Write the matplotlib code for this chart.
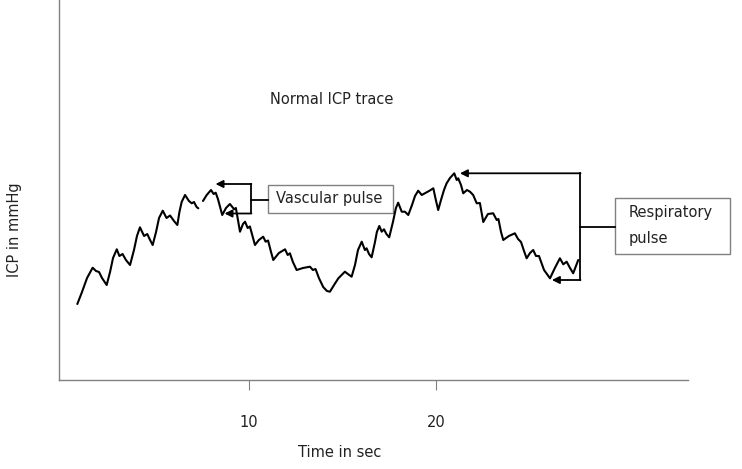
import numpy as np
import matplotlib
matplotlib.use('Agg')
import matplotlib.pyplot as plt
from matplotlib.patches import Rectangle

# trace: time in sec, ICP in arbitrary units (nan = gap in the line)
t = [0.82, 1.07, 1.34, 1.64, 1.82, 1.98, 2.14, 2.39, 2.57, 2.73, 2.93, 3.07, 3.24, 3.42, 3.64,
     3.85, 4.01, 4.17, 4.39, 4.56, 4.71, 4.85, 5.03, 5.19, 5.39, 5.59, 5.78, 5.99, 6.17, 6.28,
     6.40, 6.58, 6.79, 6.94, 7.06, 7.20, 7.29, np.nan, 7.54, 7.74, 7.97, 8.11, 8.22, 8.34, 8.45,
     8.57, 8.77, 8.98, 9.21, 9.30, 9.41, 9.52, 9.68, 9.79, 9.93, 10.05, 10.19, 10.32, 10.53,
     10.76, 10.89, 11.02, 11.18, 11.30, 11.60, 11.93, 12.07, 12.19, 12.35, 12.55, 12.89, 13.26,
     13.42, 13.56, 13.74, 13.97, 14.17, 14.33, 14.55, 14.78, 15.13, 15.29, 15.49, 15.67, 15.83,
     16.03, 16.20, 16.29, 16.42, 16.56, 16.74, 16.84, 16.97, 17.10, 17.22, 17.35, 17.50, 17.70,
     17.86, 17.98, 18.17, 18.34, 18.52, 18.72, 18.88, 19.05, 19.24, 19.41, 19.63, 19.86, 19.97,
     20.12, 20.27, 20.43, 20.57, 20.75, 20.98, 21.11, 21.19, 21.34, 21.46, 21.66, 21.82, 21.99,
     22.18, 22.35, 22.53, 22.78, 23.06, 23.25, 23.34, 23.48, 23.60, 23.90, 24.22, 24.39, 24.55,
     24.71, 24.85, 25.03, 25.20, 25.35, 25.51, 25.78, 26.10, 26.36, 26.63, 26.81, 26.99, 27.17,
     27.34, 27.49, 27.61]
icp = [76, 88, 102, 112.3, 109, 108, 102, 95, 108, 122, 130.7, 124, 126, 120, 115,
       130, 144, 152.7, 144, 146, 140, 135, 148, 162, 169.3, 162, 164.5, 159, 155, 168,
       178, 185, 179, 176.7, 178, 173, 171.7, np.nan, 179, 185, 190, 186, 187.3, 181, 173.3,
       165, 172, 176, 170.7, 172, 160, 148.3, 156, 158.3, 152, 153.5, 144, 135, 140,
       143.3, 138.3, 139.5, 128, 120, 127, 130.7, 125, 126.7, 118, 110, 112, 113.3,
       110, 111, 102, 93, 89, 88.3, 95, 101.7, 108.3, 106, 103.3, 115, 130,
       138.3, 130, 131.7, 126, 122.7, 138, 148, 154, 148.3, 150.7, 146, 142.7, 158,
       172, 177.3, 168.3, 168.3, 165, 175, 184, 189.3, 185, 186.7, 189, 191.7, 182,
       170, 180, 190, 196.7, 202, 206.7, 200, 201.7, 195, 186.7, 190, 188.3, 185,
       176.7, 177, 158, 166, 166.7, 160, 161, 148, 140, 144, 146.7, 141, 138,
       129, 121.7, 127, 130, 124, 124, 110, 101.7, 112, 121.7, 115.7, 118.3, 112,
       106.7, 114, 120]

xticks = [10, 20]
grey = '#808080'
txt = '#222222'

fig = plt.figure(figsize=(7.42, 4.69), dpi=100)
ax = fig.add_axes([59/742, 89/469, 629/742, 380/469])
ax.plot(t, icp, color='black', lw=1.5, solid_joinstyle='round', solid_capstyle='round')
ax.set_xlim(-0.16, 33.48)
ax.set_ylim(0, 380)

for s in ['top', 'right']:
    ax.spines[s].set_visible(False)
for s in ['left', 'bottom']:
    ax.spines[s].set_color(grey)
    ax.spines[s].set_linewidth(1.0)
ax.set_yticks([])
ax.set_xticks(xticks)
ax.set_xticklabels([str(v) for v in xticks], fontsize=10.5, color=txt)
ax.tick_params(axis='x', length=7, color=grey, pad=18)

fig.text(340/742, 1 - 452/469, 'Time in sec', ha='center', va='center', fontsize=10.5, color=txt)
fig.text(15/742, 1 - 230/469, 'ICP in mmHg', ha='center', va='center', rotation=90,
         fontsize=10.5, color=txt)
ax.text(11.12, 280, 'Normal ICP trace', ha='left', va='center', fontsize=10.5, color=txt)

arrow = dict(arrowstyle='-|>', color='black', lw=1.3, mutation_scale=11, shrinkA=0, shrinkB=0)

# vascular pulse callout
ax.plot([10.13, 10.13], [166.5, 196], color='black', lw=1.3)
ax.plot([10.13, 11.02], [179.5, 179.5], color='black', lw=1.3)
ax.annotate('', xy=(8.21, 196), xytext=(10.13, 196), arrowprops=arrow)
ax.annotate('', xy=(8.69, 166.5), xytext=(10.13, 166.5), arrowprops=arrow)
ax.add_patch(Rectangle((11.02, 166.5), 6.68, 28.5, fill=False, ec=grey, lw=1.0))
ax.text(11.42, 181, 'Vascular pulse', ha='left', va='center', fontsize=10.5, color=txt)

# respiratory pulse callout
ax.plot([27.73, 27.73], [100, 206.7], color='black', lw=1.3)
ax.plot([27.73, 29.57], [153.3, 153.3], color='black', lw=1.3)
ax.annotate('', xy=(21.28, 206.7), xytext=(27.73, 206.7), arrowprops=arrow)
ax.annotate('', xy=(26.20, 100), xytext=(27.73, 100), arrowprops=arrow)
ax.add_patch(Rectangle((29.57, 126), 6.17, 55.7, fill=False, ec=grey, lw=1.0, clip_on=False))
ax.text(30.32, 167, 'Respiratory', ha='left', va='center', fontsize=10.5, color=txt)
ax.text(30.32, 142, 'pulse', ha='left', va='center', fontsize=10.5, color=txt)

fig.savefig('out.png', dpi=100)
